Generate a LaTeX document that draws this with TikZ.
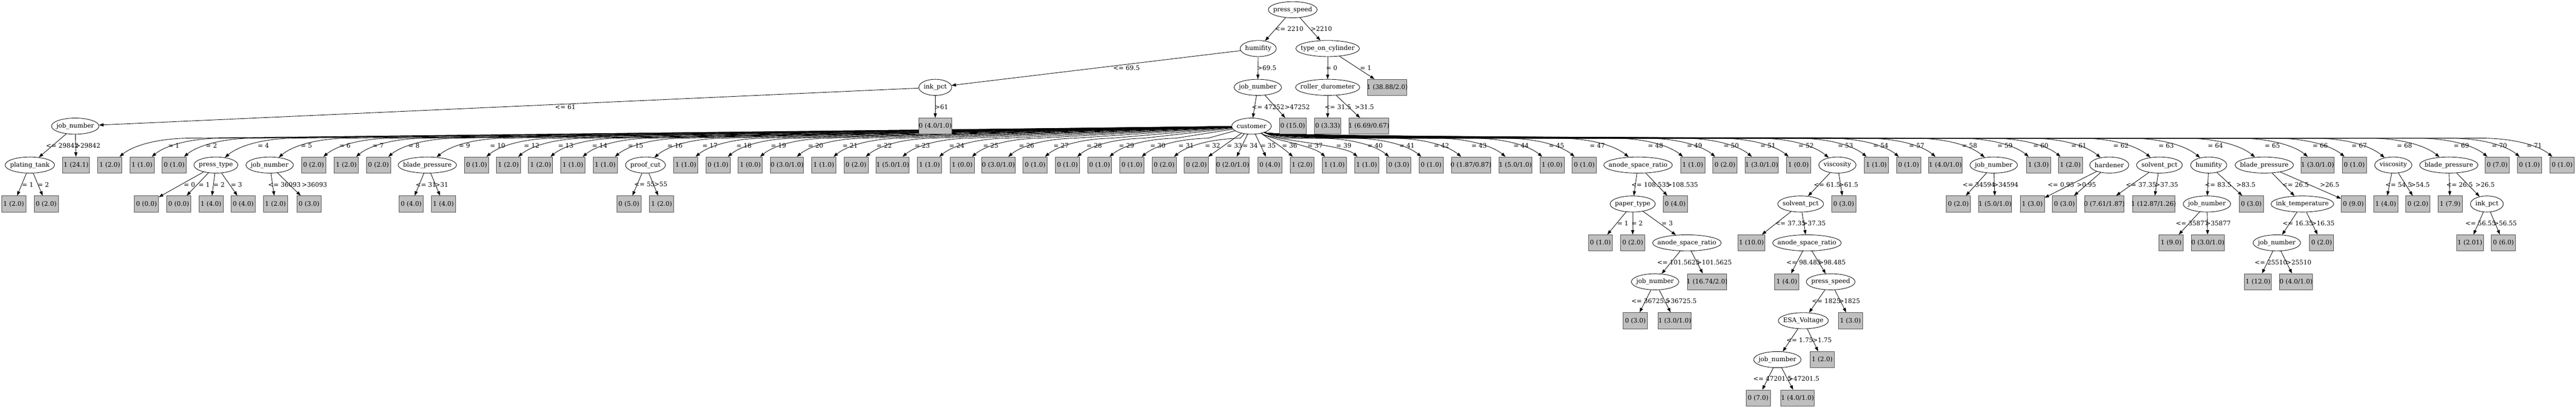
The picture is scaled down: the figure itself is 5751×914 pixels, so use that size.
\documentclass[tikz,border=0pt]{standalone}
\usepackage{fontspec}
\setmainfont{DejaVu Serif}
\usetikzlibrary{arrows.meta,calc,shapes.geometric}
\AtBeginDocument{\fontsize{14}{17}\selectfont}

\tikzset{
  attr/.style={shape=ellipse, draw, inner sep=0pt, minimum height=36,
    minimum width={width("#1")+22}, node contents={\makebox[0pt]{#1}}},
  leaf/.style={shape=rectangle, draw=black!70, fill=lightgray, inner sep=0pt,
    minimum height=36, minimum width={max(54,0.787*width("#1")+16)},
    node contents={\makebox[0pt]{#1}}},
  lab/.style={inner sep=0pt},
  fanl/.style={to path={-- ($(\tikztotarget)+(170,-60)$)
    .. controls ($(\tikztotarget)+(90,-58)$) and ($(\tikztotarget)+(45,-38)$) .. (\tikztotarget)}},
  fanr/.style={to path={.. controls ($(\tikztostart)+(60,30)$) and ($(\tikztotarget)+(-260,-60)$)
    .. ($(\tikztotarget)+(-170,-60)$)
    .. controls ($(\tikztotarget)+(-90,-58)$) and ($(\tikztotarget)+(-45,-38)$) .. (\tikztotarget)}},
  nearr/.style={to path={.. controls ($(\tikztostart)+(40,30)$) and ($(\tikztotarget)+(-50,-45)$) .. (\tikztotarget)}}
}

\begin{document}
\begin{tikzpicture}[x=1pt, y=-1pt, line width=1pt, >={Triangle[length=10pt,width=7pt]}]
  \useasboundingbox (0,0) rectangle (5751,914);

  % top of the tree
  \node (ps) at (2886,21.7) [attr=press\_speed];
  \node (hu) at (2809,108.5) [attr=humifity];
  \node (toc) at (2964,108.5) [attr=type\_on\_cylinder];
  \node (ip) at (2088,195.3) [attr=ink\_pct];
  \node (jn1) at (2808,195.3) [attr=job\_number];
  \node (rd) at (2964,195.3) [attr=roller\_durometer];
  \node (t1) at (3097,195.3) [leaf={1 (38.88/2.0)}];
  \node (jn0) at (168,282) [attr=job\_number];
  \node (cu) at (2794,282) [attr=customer];
  \node (pt) at (66.6,369) [attr=plating\_tank];
  \node (t6) at (170,369) [leaf={1 (24.1)}];
  \node (pt1) at (30.5,456) [leaf={1 (2.0)}];
  \node (pt2) at (103,456) [leaf={0 (2.0)}];

  \path[->] (ps) edge (hu) edge (toc);
  \path[->] (hu) edge (ip) edge (jn1);
  \path[->] (toc) edge (rd) edge (t1);
  \path[->] (jn0) edge (pt) edge (t6);
  \path[->] (pt) edge (pt1) edge (pt2);

  \node[lab] (q1) at (2878,65) {<= 2210};
  \node[lab] (q2) at (2950,65) {>2210};
  \node[lab] (q3) at (2515,152) {<= 69.5};
  \node[lab] (q4) at (2828,152) {>69.5};
  \node[lab] (q5) at (2973,152) {= 0};
  \node[lab] (q6) at (3049,152) {= 1};
  \node[lab] (q7) at (1262,239) {<= 61};
  \node[lab] (q8) at (2102,239) {>61};
  \node[lab] (q9) at (2831,239) {<= 47252};
  \node[lab] (q10) at (2896,239) {>47252};
  \node[lab] (q11) at (2987,239) {<= 31.5};
  \node[lab] (q12) at (3046,239) {>31.5};
  \node[lab] (q13) at (139,325.5) {<= 29842};
  \node[lab] (q14) at (196,325.5) {>29842};
  \node[lab] (q15) at (62,412.5) {= 1};
  \node[lab] (q16) at (97,412.5) {= 2};

  % children of customer
  \node (c1) at (245,369) [leaf={1 (2.0)}];
  \node (c2) at (317,369) [leaf={1 (1.0)}];
  \node (c3) at (389,369) [leaf={0 (1.0)}];
  \node (c4) at (482,369) [attr=press\_type];
  \node (c5) at (602,369) [attr=job\_number];
  \node (c6) at (700,369) [leaf={0 (2.0)}];
  \node (c7) at (773,369) [leaf={1 (2.0)}];
  \node (c8) at (845,369) [leaf={0 (2.0)}];
  \node (c9) at (954,369) [attr=blade\_pressure];
  \node (c10) at (1064,369) [leaf={0 (1.0)}];
  \node (c11) at (1135,369) [leaf={1 (2.0)}];
  \node (c12) at (1207,369) [leaf={1 (2.0)}];
  \node (c13) at (1279,369) [leaf={1 (1.0)}];
  \node (c14) at (1351,369) [leaf={1 (1.0)}];
  \node (c15) at (1441,369) [attr=proof\_cut];
  \node (c16) at (1531,369) [leaf={1 (1.0)}];
  \node (c17) at (1603,369) [leaf={0 (1.0)}];
  \node (c18) at (1675,369) [leaf={1 (0.0)}];
  \node (c19) at (1757,369) [leaf={0 (3.0/1.0)}];
  \node (c20) at (1839,369) [leaf={1 (1.0)}];
  \node (c21) at (1911,369) [leaf={0 (2.0)}];
  \node (c22) at (1993,369) [leaf={1 (5.0/1.0)}];
  \node (c23) at (2075,369) [leaf={1 (1.0)}];
  \node (c24) at (2148,369) [leaf={1 (0.0)}];
  \node (c25) at (2229,369) [leaf={0 (3.0/1.0)}];
  \node (c26) at (2311,369) [leaf={0 (1.0)}];
  \node (c27) at (2383,369) [leaf={0 (1.0)}];
  \node (c28) at (2455,369) [leaf={0 (1.0)}];
  \node (c29) at (2527,369) [leaf={0 (1.0)}];
  \node (c30) at (2599,369) [leaf={0 (2.0)}];
  \node (c31) at (2671,369) [leaf={0 (2.0)}];
  \node (c32) at (2752,369) [leaf={0 (2.0/1.0)}];
  \node (c33) at (2835,369) [leaf={0 (4.0)}];
  \node (c34) at (2907,369) [leaf={1 (2.0)}];
  \node (c35) at (2979,369) [leaf={1 (1.0)}];
  \node (c36) at (3051,369) [leaf={1 (1.0)}];
  \node (c37) at (3123,369) [leaf={0 (3.0)}];
  \node (c38) at (3195,369) [leaf={0 (1.0)}];
  \node (c39) at (3284,369) [leaf={0 (1.87/0.87)}];
  \node (c40) at (3383,369) [leaf={1 (5.0/1.0)}];
  \node (c41) at (3465,369) [leaf={1 (0.0)}];
  \node (c42) at (3537,369) [leaf={0 (1.0)}];
  \node (c43) at (3657,369) [attr=anode\_space\_ratio];
  \node (c44) at (3779,369) [leaf={1 (1.0)}];
  \node (c45) at (3851,369) [leaf={0 (2.0)}];
  \node (c46) at (3933,369) [leaf={1 (3.0/1.0)}];
  \node (c47) at (4015,369) [leaf={1 (0.0)}];
  \node (c48) at (4102,369) [attr=viscosity];
  \node (c49) at (4189,369) [leaf={1 (1.0)}];
  \node (c50) at (4261,369) [leaf={0 (1.0)}];
  \node (c51) at (4343,369) [leaf={1 (4.0/1.0)}];
  \node (c52) at (4451,369) [attr=job\_number];
  \node (c53) at (4551,369) [leaf={1 (3.0)}];
  \node (c54) at (4622,369) [leaf={1 (2.0)}];
  \node (c55) at (4709,369) [attr=hardener];
  \node (c56) at (4821,369) [attr=solvent\_pct];
  \node (c57) at (4931,369) [attr=humifity];
  \node (c58) at (5055,369) [attr=blade\_pressure];
  \node (c59) at (5174,369) [leaf={1 (3.0/1.0)}];
  \node (c60) at (5256,369) [leaf={0 (1.0)}];
  \node (c61) at (5343,369) [attr=viscosity];
  \node (c62) at (5467,369) [attr=blade\_pressure];
  \node (c63) at (5575,369) [leaf={0 (7.0)}];
  \node (c64) at (5647,369) [leaf={0 (1.0)}];
  \node (c65) at (5720,369) [leaf={0 (1.0)}];

  \path[->] (cu) edge[fanl] (c1) edge[fanl] (c2) edge[fanl] (c3) edge[fanl] (c4)
    edge[fanl] (c5) edge[fanl] (c6) edge[fanl] (c7) edge[fanl] (c8) edge[fanl] (c9)
    edge[fanl] (c10) edge[fanl] (c11) edge[fanl] (c12) edge[fanl] (c13) edge[fanl] (c14)
    edge[fanl] (c15) edge[fanl] (c16) edge[fanl] (c17) edge[fanl] (c18) edge[fanl] (c19)
    edge[fanl] (c20) edge[fanl] (c21) edge[fanl] (c22) edge[fanl] (c23) edge[fanl] (c24)
    edge[fanl] (c25) edge[fanl] (c26) edge[fanl] (c27) edge[fanl] (c28) edge[fanl] (c29)
    edge[fanl] (c30);
  \path[->] (cu) edge (c31) edge (c32) edge (c33);
  \path[->] (cu) edge[nearr] (c34) edge[nearr] (c35) edge[nearr] (c36);
  \path[->] (cu) edge[fanr] (c37) edge[fanr] (c38)
    edge[fanr] (c39) edge[fanr] (c40) edge[fanr] (c41) edge[fanr] (c42) edge[fanr] (c43)
    edge[fanr] (c44) edge[fanr] (c45) edge[fanr] (c46) edge[fanr] (c47) edge[fanr] (c48)
    edge[fanr] (c49) edge[fanr] (c50) edge[fanr] (c51) edge[fanr] (c52) edge[fanr] (c53)
    edge[fanr] (c54) edge[fanr] (c55) edge[fanr] (c56) edge[fanr] (c57) edge[fanr] (c58)
    edge[fanr] (c59) edge[fanr] (c60) edge[fanr] (c61) edge[fanr] (c62) edge[fanr] (c63)
    edge[fanr] (c64) edge[fanr] (c65);

  % boxes sitting over the bundle of edges
  \node (t2) at (2088,282) [leaf={0 (4.0/1.0)}];
  \node (t3) at (2886,282) [leaf={0 (15.0)}];
  \node (t4) at (2964,282) [leaf={0 (3.33)}];
  \node (t5) at (3056,282) [leaf={1 (6.69/0.67)}];
  \path[->] (ip) edge (jn0) edge (t2);
  \path[->] (jn1) edge (cu) edge (t3);
  \path[->] (rd) edge (t4) edge (t5);

  \node[lab] (e1) at (388,325.5) {= 1};
  \node[lab] (e2) at (472,325.5) {= 2};
  \node[lab] (e3) at (588,325.5) {= 4};
  \node[lab] (e4) at (684,325.5) {= 5};
  \node[lab] (e5) at (770,325.5) {= 6};
  \node[lab] (e6) at (844,325.5) {= 7};
  \node[lab] (e7) at (924,325.5) {= 8};
  \node[lab] (e8) at (1037,325.5) {= 9};
  \node[lab] (e9) at (1111,325.5) {= 10};
  \node[lab] (e10) at (1187,325.5) {= 12};
  \node[lab] (e11) at (1263,325.5) {= 13};
  \node[lab] (e12) at (1339,325.5) {= 14};
  \node[lab] (e13) at (1419,325.5) {= 15};
  \node[lab] (e14) at (1507,325.5) {= 16};
  \node[lab] (e15) at (1585,325.5) {= 17};
  \node[lab] (e16) at (1661,325.5) {= 18};
  \node[lab] (e17) at (1738,325.5) {= 19};
  \node[lab] (e18) at (1821,325.5) {= 20};
  \node[lab] (e19) at (1898,325.5) {= 21};
  \node[lab] (e20) at (1974,325.5) {= 22};
  \node[lab] (e21) at (2059,325.5) {= 23};
  \node[lab] (e22) at (2136,325.5) {= 24};
  \node[lab] (e23) at (2212,325.5) {= 25};
  \node[lab] (e24) at (2292,325.5) {= 26};
  \node[lab] (e25) at (2369,325.5) {= 27};
  \node[lab] (e26) at (2443,325.5) {= 28};
  \node[lab] (e27) at (2515,325.5) {= 29};
  \node[lab] (e28) at (2585,325.5) {= 30};
  \node[lab] (e29) at (2648,325.5) {= 31};
  \node[lab] (e30) at (2707,325.5) {= 32};
  \node[lab] (e31) at (2756,325.5) {= 33};
  \node[lab] (e32) at (2791,325.5) {= 34};
  \node[lab] (e33) at (2831,325.5) {= 35};
  \node[lab] (e34) at (2879,325.5) {= 36};
  \node[lab] (e35) at (2936,325.5) {= 37};
  \node[lab] (e36) at (3000,325.5) {= 39};
  \node[lab] (e37) at (3070,325.5) {= 40};
  \node[lab] (e38) at (3141,325.5) {= 41};
  \node[lab] (e39) at (3218,325.5) {= 42};
  \node[lab] (e40) at (3302,325.5) {= 43};
  \node[lab] (e41) at (3396,325.5) {= 44};
  \node[lab] (e42) at (3475,325.5) {= 45};
  \node[lab] (e43) at (3566,325.5) {= 47};
  \node[lab] (e44) at (3696,325.5) {= 48};
  \node[lab] (e45) at (3783,325.5) {= 49};
  \node[lab] (e46) at (3865,325.5) {= 50};
  \node[lab] (e47) at (3947,325.5) {= 51};
  \node[lab] (e48) at (4032,325.5) {= 52};
  \node[lab] (e49) at (4120,325.5) {= 53};
  \node[lab] (e50) at (4199,325.5) {= 54};
  \node[lab] (e51) at (4279,325.5) {= 57};
  \node[lab] (e52) at (4397,325.5) {= 58};
  \node[lab] (e53) at (4476,325.5) {= 59};
  \node[lab] (e54) at (4556,325.5) {= 60};
  \node[lab] (e55) at (4641,325.5) {= 61};
  \node[lab] (e56) at (4735,325.5) {= 62};
  \node[lab] (e57) at (4836,325.5) {= 63};
  \node[lab] (e58) at (4946,325.5) {= 64};
  \node[lab] (e59) at (5073,325.5) {= 65};
  \node[lab] (e60) at (5180,325.5) {= 66};
  \node[lab] (e61) at (5267,325.5) {= 67};
  \node[lab] (e62) at (5368,325.5) {= 68};
  \node[lab] (e63) at (5495,325.5) {= 69};
  \node[lab] (e64) at (5580,325.5) {= 70};
  \node[lab] (e65) at (5658,325.5) {= 71};

  % subtrees on the left
  \node (c4a) at (327,456) [leaf={0 (0.0)}];
  \node (c4b) at (399,456) [leaf={0 (0.0)}];
  \node (c4c) at (471,456) [leaf={1 (4.0)}];
  \node (c4d) at (543,456) [leaf={0 (4.0)}];
  \node (c5a) at (615,456) [leaf={1 (2.0)}];
  \node (c5b) at (690,456) [leaf={0 (3.0)}];
  \node (c9a) at (918,456) [leaf={0 (4.0)}];
  \node (c9b) at (990,456) [leaf={1 (4.0)}];
  \node (c15a) at (1404,456) [leaf={0 (5.0)}];
  \node (c15b) at (1477,456) [leaf={1 (2.0)}];
  \path[->] (c4) edge (c4a) edge (c4b) edge (c4c) edge (c4d);
  \path[->] (c5) edge (c5a) edge (c5b);
  \path[->] (c9) edge (c9a) edge (c9b);
  \path[->] (c15) edge (c15a) edge (c15b);
  \node[lab] (f1) at (423,412.5) {= 0};
  \node[lab] (f2) at (456,412.5) {= 1};
  \node[lab] (f3) at (489,412.5) {= 2};
  \node[lab] (f4) at (528,412.5) {= 3};
  \node[lab] (f5) at (635,412.5) {<= 36093};
  \node[lab] (f6) at (702,412.5) {>36093};
  \node[lab] (f7) at (951,412.5) {<= 31};
  \node[lab] (f8) at (986,412.5) {>31};
  \node[lab] (f9) at (1439,412.5) {<= 55};
  \node[lab] (f10) at (1475,412.5) {>55};

  % anode_space_ratio subtree
  \node (c43a) at (3645,456) [attr=paper\_type];
  \node (c43b) at (3740,456) [leaf={0 (4.0)}];
  \node (c43c) at (3573,543) [leaf={0 (1.0)}];
  \node (c43d) at (3645,543) [leaf={0 (2.0)}];
  \node (c43e) at (3766,543) [attr=anode\_space\_ratio];
  \node (c43f) at (3695,630) [attr=job\_number];
  \node (c43g) at (3811,630) [leaf={1 (16.74/2.0)}];
  \node (c43h) at (3651,717) [leaf={0 (3.0)}];
  \node (c43i) at (3739,717) [leaf={1 (3.0/1.0)}];
  \path[->] (c43) edge (c43a) edge (c43b);
  \path[->] (c43a) edge (c43c) edge (c43d) edge (c43e);
  \path[->] (c43e) edge (c43f) edge (c43g);
  \path[->] (c43f) edge (c43h) edge (c43i);
  \node[lab] (g1) at (3685,412.5) {<= 108.535};
  \node[lab] (g2) at (3756,412.5) {>108.535};
  \node[lab] (g3) at (3623,499.5) {= 1};
  \node[lab] (g4) at (3655,499.5) {= 2};
  \node[lab] (g5) at (3722,499.5) {= 3};
  \node[lab] (g6) at (3747,586.5) {<= 101.5625};
  \node[lab] (g7) at (3827,586.5) {>101.5625};
  \node[lab] (g8) at (3685,673.5) {<= 36725.5};
  \node[lab] (g9) at (3753,673.5) {>36725.5};

  % viscosity subtree
  \node (c48a) at (4020,456) [attr=solvent\_pct];
  \node (c48b) at (4116,456) [leaf={0 (3.0)}];
  \node (c48c) at (3910,543) [leaf={1 (10.0)}];
  \node (c48d) at (4034,543) [attr=anode\_space\_ratio];
  \node (c48e) at (3989,630) [leaf={1 (4.0)}];
  \node (c48f) at (4087,630) [attr=press\_speed];
  \node (c48g) at (4026,717) [attr=ESA\_Voltage];
  \node (c48h) at (4131,717) [leaf={1 (3.0)}];
  \node (c48i) at (3968,804) [attr=job\_number];
  \node (c48j) at (4068,804) [leaf={1 (2.0)}];
  \node (c48k) at (3925,890) [leaf={0 (7.0)}];
  \node (c48l) at (4013,890) [leaf={1 (4.0/1.0)}];
  \path[->] (c48) edge (c48a) edge (c48b);
  \path[->] (c48a) edge (c48c) edge (c48d);
  \path[->] (c48d) edge (c48e) edge (c48f);
  \path[->] (c48f) edge (c48g) edge (c48h);
  \path[->] (c48g) edge (c48i) edge (c48j);
  \path[->] (c48i) edge (c48k) edge (c48l);
  \node[lab] (h1) at (4079,412.5) {<= 61.5};
  \node[lab] (h2) at (4127,412.5) {>61.5};
  \node[lab] (h3) at (3997,499.5) {<= 37.35};
  \node[lab] (h4) at (4050,499.5) {>37.35};
  \node[lab] (h5) at (4027,586.5) {<= 98.485};
  \node[lab] (h6) at (4090,586.5) {>98.485};
  \node[lab] (h7) at (4077,673.5) {<= 1825};
  \node[lab] (h8) at (4129,673.5) {>1825};
  \node[lab] (h9) at (4018,760.5) {<= 1.75};
  \node[lab] (h10) at (4068,760.5) {>1.75};
  \node[lab] (h11) at (3957,847) {<= 47201.5};
  \node[lab] (h12) at (4027,847) {>47201.5};

  % subtrees on the right
  \node (c52a) at (4372,456) [leaf={0 (2.0)}];
  \node (c52b) at (4454,456) [leaf={1 (5.0/1.0)}];
  \node (c55a) at (4537,456) [leaf={1 (3.0)}];
  \node (c55b) at (4609,456) [leaf={0 (3.0)}];
  \node (c56a) at (4698,456) [leaf={0 (7.61/1.87)}];
  \node (c56b) at (4808,456) [leaf={1 (12.87/1.26)}];
  \node (c57a) at (4927,456) [attr=job\_number];
  \node (c57b) at (5026,456) [leaf={0 (3.0)}];
  \node (c57c) at (4847,543) [leaf={1 (9.0)}];
  \node (c57d) at (4929,543) [leaf={0 (3.0/1.0)}];
  \node (c58a) at (5140,456) [attr=ink\_temperature];
  \node (c58b) at (5254,456) [leaf={0 (9.0)}];
  \node (c58c) at (5083,543) [attr=job\_number];
  \node (c58d) at (5183,543) [leaf={0 (2.0)}];
  \node (c58e) at (5041,630) [leaf={1 (12.0)}];
  \node (c58f) at (5126,630) [leaf={0 (4.0/1.0)}];
  \node (c61a) at (5326,456) [leaf={1 (4.0)}];
  \node (c61b) at (5398,456) [leaf={0 (2.0)}];
  \node (c62a) at (5470,456) [leaf={1 (7.9)}];
  \node (c62b) at (5552,456) [attr=ink\_pct];
  \node (c62c) at (5514,543) [leaf={1 (2.01)}];
  \node (c62d) at (5589,543) [leaf={0 (6.0)}];
  \path[->] (c52) edge (c52a) edge (c52b);
  \path[->] (c55) edge (c55a) edge (c55b);
  \path[->] (c56) edge (c56a) edge (c56b);
  \path[->] (c57) edge (c57a) edge (c57b);
  \path[->] (c57a) edge (c57c) edge (c57d);
  \path[->] (c58) edge (c58a) edge (c58b);
  \path[->] (c58a) edge (c58c) edge (c58d);
  \path[->] (c58c) edge (c58e) edge (c58f);
  \path[->] (c61) edge (c61a) edge (c61b);
  \path[->] (c62) edge (c62a) edge (c62b);
  \path[->] (c62b) edge (c62c) edge (c62d);
  \node[lab] (k1) at (4418,412.5) {<= 34594};
  \node[lab] (k2) at (4478,412.5) {>34594};
  \node[lab] (k3) at (4601,412.5) {<= 0.95};
  \node[lab] (k4) at (4658,412.5) {>0.95};
  \node[lab] (k5) at (4780,412.5) {<= 37.35};
  \node[lab] (k6) at (4837,412.5) {>37.35};
  \node[lab] (k7) at (4952,412.5) {<= 83.5};
  \node[lab] (k8) at (5014,412.5) {>83.5};
  \node[lab] (k9) at (4894,499.5) {<= 35877};
  \node[lab] (k10) at (4952,499.5) {>35877};
  \node[lab] (k11) at (5125,412.5) {<= 26.5};
  \node[lab] (k12) at (5201,412.5) {>26.5};
  \node[lab] (k13) at (5130,499.5) {<= 16.35};
  \node[lab] (k14) at (5186,499.5) {>16.35};
  \node[lab] (k15) at (5070,586.5) {<= 25510};
  \node[lab] (k16) at (5132,586.5) {>25510};
  \node[lab] (k17) at (5355,412.5) {<= 54.5};
  \node[lab] (k18) at (5403,412.5) {>54.5};
  \node[lab] (k19) at (5491,412.5) {<= 26.5};
  \node[lab] (k20) at (5548,412.5) {>26.5};
  \node[lab] (k21) at (5538,499.5) {<= 56.55};
  \node[lab] (k22) at (5593,499.5) {>56.55};
\end{tikzpicture}
\end{document}
